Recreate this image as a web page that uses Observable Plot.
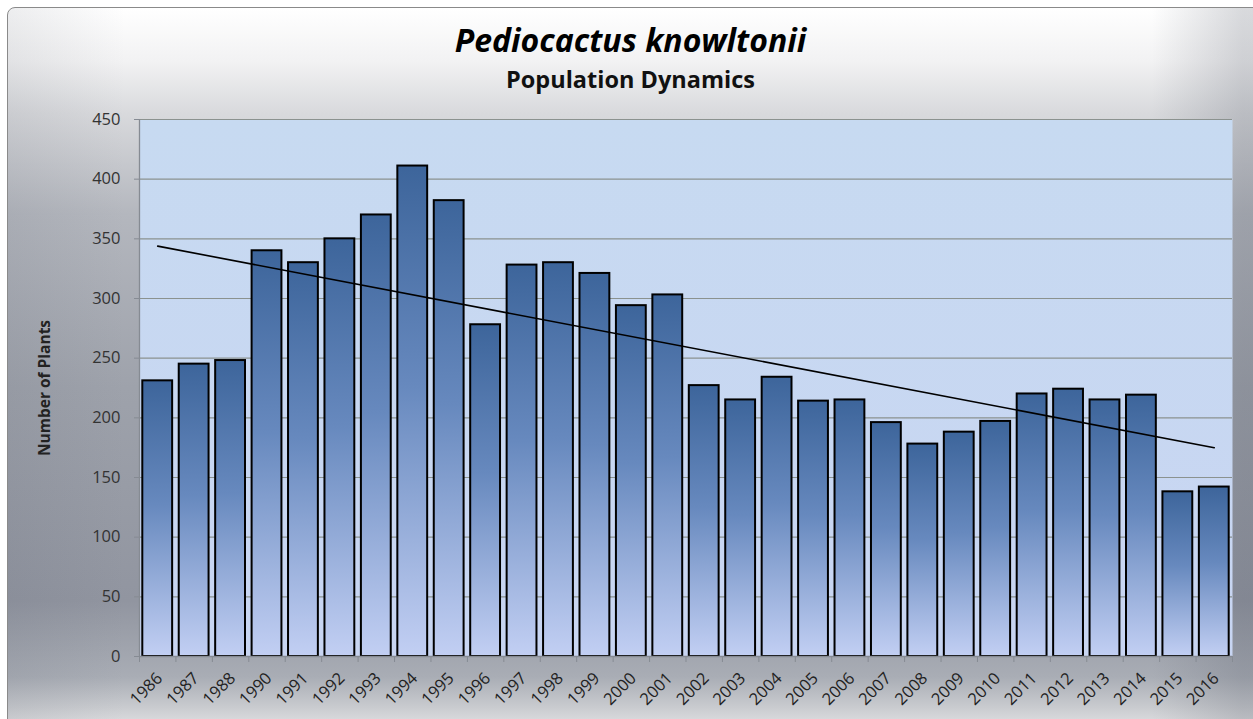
<!DOCTYPE html>
<html><head><meta charset="utf-8">
<script src="https://cdn.jsdelivr.net/npm/d3@7"></script>
<script src="https://cdn.jsdelivr.net/npm/@observablehq/plot@0.6"></script>
<style>
body{margin:0;background:#fff;}
#chart{position:relative;width:1253px;height:719px;overflow:hidden;font-family:"Open Sans",sans-serif;}
#bg{position:absolute;left:7px;top:7px;width:1300px;height:760px;border:1.5px solid #8a8a8a;border-radius:8px;
 background:
  linear-gradient(to right, rgba(80,86,100,0.10) 0%, rgba(80,86,100,0) 9%, rgba(80,86,100,0) 88%, rgba(80,86,100,0.22) 95%),
  linear-gradient(to bottom, #ffffff 0%, #f2f2f3 7%, #d8d9dc 14%, #b4b7be 27%, #9ea2ab 50%, #9195a0 78%, #a9adb5 88%, #c9cbcf 92%, #e4e4e6 95%, #efefef 100%);}
#title{position:absolute;left:8px;width:1245px;top:18px;text-align:center;font-weight:700;font-style:italic;font-size:32px;color:#000;line-height:44px;}
#subtitle{position:absolute;left:8px;width:1245px;top:64px;text-align:center;font-weight:700;font-size:23.5px;color:#111;line-height:30px;}
#plot{position:absolute;left:0;top:0;}
</style></head>
<body>
<div id="chart">
  <div id="bg"></div>
  <div id="title">Pediocactus knowltonii</div>
  <div id="subtitle">Population Dynamics</div>
  <div id="plot"></div>
</div>
<script>
const years = ["1986","1987","1988","1990","1991","1992","1993","1994","1995","1996","1997","1998","1999","2000","2001","2002","2003","2004","2005","2006","2007","2008","2009","2010","2011","2012","2013","2014","2015","2016"];
const counts = [231,245,248,340,330,350,370,411,382,278,328,330,321,294,303,227,215,234,214,215,196,178,188,197,220,224,215,219,138,142];
const yTicks = [0,50,100,150,200,250,300,350,400,450];
const yLabel = "Number of Plants";

const data = years.map((year, i) => ({year, count: counts[i], i}));

// least-squares trend line over the category index (as the spreadsheet's linear trendline)
const n = data.length;
const mx = d3.mean(data, d => d.i), my = d3.mean(data, d => d.count);
const slope = d3.sum(data, d => (d.i - mx) * (d.count - my)) / d3.sum(data, d => (d.i - mx) ** 2);
const intercept = my - slope * mx;
const trend = [data[0], data[n - 1]].map(d => ({year: d.year, value: intercept + slope * d.i}));

const W = 1253, H = 719, mL = 139, mR = 21, mT = 119, mB = 63;
const step = (W - mL - mR) / years.length;
const gray = "#868b93";

const svg = Plot.plot({
  width: W, height: H,
  marginLeft: mL, marginRight: mR, marginTop: mT, marginBottom: mB,
  style: {background: "transparent", overflow: "visible", fontFamily: "'Open Sans', sans-serif", color: "#333"},
  x: {type: "band", domain: years, padding: 0, round: false, axis: null, label: null},
  y: {domain: [0, 450], axis: null, label: null},
  marks: [
    Plot.frame({fill: "url(#areaGrad)", stroke: null}),
    Plot.ruleY(yTicks.slice(1), {stroke: "#8b928f", strokeWidth: 1.2}),
    Plot.barY(data, {x: "year", y: "count", fill: "url(#barGrad)", stroke: "#000", strokeWidth: 2, insetLeft: 3.3, insetRight: 3.3}),
    Plot.ruleY([0], {stroke: gray, strokeWidth: 1.3}),
    Plot.ruleX([years[0]], {dx: -step / 2, stroke: gray, strokeWidth: 1.3}),
    Plot.line(trend, {x: "year", y: "value", stroke: "#000", strokeWidth: 1.6}),
    Plot.axisY({ticks: yTicks, tickSize: 5, tickFormat: () => "", stroke: gray, label: null}),
    Plot.axisY({ticks: yTicks, tickSize: 0, tickPadding: 19, fontSize: 16.5, fill: "#333", label: null}),
    Plot.axisX({tickSize: 6, tickFormat: () => "", dx: -step / 2, stroke: gray, label: null}),
    Plot.axisX({ticks: [years[n - 1]], tickSize: 6, tickFormat: () => "", dx: step / 2, stroke: gray, label: null}),
    Plot.axisX({tickSize: 0, tickPadding: 19, tickRotate: -45, dx: 2, fontSize: 16.5, fill: "#222", label: null}),
    Plot.text([yLabel], {frameAnchor: "left", textAnchor: "middle", rotate: -90, dx: -94, fontSize: 15.5, fontWeight: "bold", fill: "#222"})
  ]
});

const ns = "http://www.w3.org/2000/svg";
const defs = document.createElementNS(ns, "defs");
defs.innerHTML = `
<linearGradient id="barGrad" x1="0" y1="0" x2="0" y2="1">
  <stop offset="0" stop-color="#3d659b"/>
  <stop offset="0.45" stop-color="#6789be"/>
  <stop offset="1" stop-color="#c2cff3"/>
</linearGradient>
<linearGradient id="areaGrad" x1="0" y1="0" x2="0" y2="1">
  <stop offset="0" stop-color="#c7daf1"/>
  <stop offset="1" stop-color="#c8d5f2"/>
</linearGradient>`;
svg.insertBefore(defs, svg.firstChild);
document.getElementById("plot").appendChild(svg);
</script>
</body></html>
